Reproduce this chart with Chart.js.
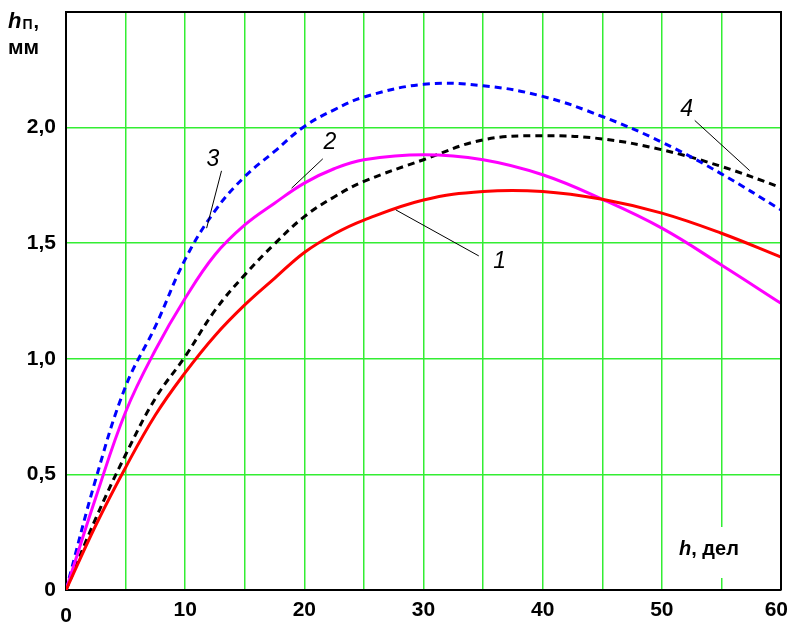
<!DOCTYPE html>
<html>
<head>
<meta charset="utf-8">
<script src="https://cdn.jsdelivr.net/npm/chart.js@4"></script>
<style>
  html, body { margin: 0; padding: 0; background: #ffffff; }
  #c { display: block; }
</style>
</head>
<body>
<canvas id="c" width="791" height="622"></canvas>
<script>
// Scale divisions h (дел) at which each curve is sampled
const divisions = [0, 2.5, 5, 7.5, 10, 12.5, 15, 17.5, 20, 22.5, 25, 30, 35, 40, 45, 50, 55, 60];

// h_П, мм for each curve
const curve1 = [0, 0.28, 0.53, 0.757, 0.94, 1.10, 1.233, 1.348, 1.46, 1.54, 1.60, 1.687, 1.724, 1.724, 1.69, 1.63, 1.543, 1.44];
const curve2 = [0, 0.40, 0.77, 1.038, 1.262, 1.45, 1.579, 1.673, 1.76, 1.822, 1.861, 1.883, 1.861, 1.796, 1.69, 1.565, 1.406, 1.24];
const curve3 = [0, 0.48, 0.88, 1.14, 1.43, 1.64, 1.788, 1.897, 2.005, 2.077, 2.132, 2.187, 2.181, 2.135, 2.048, 1.937, 1.80, 1.644];
const curve4 = [0, 0.31, 0.585, 0.829, 1.01, 1.209, 1.363, 1.497, 1.615, 1.70, 1.767, 1.861, 1.947, 1.965, 1.951, 1.904, 1.832, 1.741];

const curveNames = ['1', '2', '3', '4'];
const xTickLabels = [0, 10, 20, 30, 40, 50, 60];
const yTickLabels = ['0', '0,5', '1,0', '1,5', '2,0'];

// Curve number callouts: text anchor and leader line ends, in axis units
const callouts = [
  { text: '1', at: [36.4, 1.419], from: [27.68, 1.644], to: [34.64, 1.445] },
  { text: '2', at: [22.14, 1.934], from: [21.55, 1.865], to: [18.93, 1.738] },
  { text: '3', at: [12.32, 1.861], from: [13.05, 1.813], to: [11.80, 1.565] },
  { text: '4', at: [52.09, 2.078], from: [52.76, 2.031], to: [57.37, 1.814] }
];

const toPoints = vals => divisions.map((h, i) => ({ x: h, y: vals[i] }));

const GRID = '#33ee33';
const FAMILY = '"Liberation Sans", Arial, sans-serif';
const BOLD = 'bold 21px ' + FAMILY;

const decorations = {
  id: 'decorations',
  afterDatasetsDraw(chart) {
    const { ctx, chartArea: a, scales: { x, y } } = chart;
    ctx.save();

    // frame on top and right
    ctx.strokeStyle = '#000000';
    ctx.lineWidth = 2;
    ctx.beginPath();
    ctx.moveTo(a.left, a.top);
    ctx.lineTo(a.right, a.top);
    ctx.lineTo(a.right, a.bottom);
    ctx.stroke();

    // leader lines and curve numbers
    ctx.lineWidth = 1;
    ctx.strokeStyle = '#000000';
    ctx.fillStyle = '#000000';
    ctx.font = 'italic 23px ' + FAMILY;
    ctx.textAlign = 'center';
    ctx.textBaseline = 'middle';
    callouts.forEach(c => {
      ctx.beginPath();
      ctx.moveTo(x.getPixelForValue(c.from[0]), y.getPixelForValue(c.from[1]));
      ctx.lineTo(x.getPixelForValue(c.to[0]), y.getPixelForValue(c.to[1]));
      ctx.stroke();
      ctx.fillText(c.text, x.getPixelForValue(c.at[0]), y.getPixelForValue(c.at[1]));
    });

    // x axis title inside the plot, on a white patch
    ctx.fillStyle = '#ffffff';
    ctx.fillRect(664, 527, 88, 51);
    ctx.fillStyle = '#000000';
    ctx.textAlign = 'left';
    ctx.textBaseline = 'alphabetic';
    ctx.font = 'bold italic 20px ' + FAMILY;
    ctx.fillText('h', 679, 555);
    const hw = ctx.measureText('h').width;
    ctx.font = 'bold 20px ' + FAMILY;
    ctx.fillText(', дел', 679 + hw, 555);
    ctx.restore();
  },
  afterDraw(chart) {
    const { ctx, scales: { x } } = chart;
    ctx.save();
    ctx.fillStyle = '#000000';
    ctx.font = BOLD;
    ctx.textBaseline = 'middle';
    // x tick labels
    xTickLabels.forEach(v => {
      const px = x.getPixelForValue(v);
      const w = ctx.measureText(String(v)).width;
      let left = px - w / 2;
      if (left + w > 788) left = 788 - w;
      ctx.textAlign = 'left';
      ctx.fillText(String(v), left, v === 0 ? 616 : 610);
    });

    // y axis title
    ctx.textAlign = 'left';
    ctx.textBaseline = 'alphabetic';
    ctx.font = 'bold italic 22px ' + FAMILY;
    ctx.fillText('h', 8, 28);
    const hw = ctx.measureText('h').width;
    ctx.font = 'bold 14px ' + FAMILY;
    ctx.fillText('П', 8 + hw + 1, 29);
    const pw = ctx.measureText('П').width;
    ctx.font = 'bold 20px ' + FAMILY;
    ctx.fillText(',', 8 + hw + 1 + pw + 1, 28);
    ctx.font = 'bold 21px ' + FAMILY;
    ctx.fillText('мм', 8, 54);
    ctx.restore();
  }
};

new Chart(document.getElementById('c'), {
  type: 'line',
  data: {
    datasets: [
      { label: curveNames[0], data: toPoints(curve1), borderColor: '#ff0000', borderWidth: 3 },
      { label: curveNames[1], data: toPoints(curve2), borderColor: '#ff00ff', borderWidth: 3 },
      { label: curveNames[2], data: toPoints(curve3), borderColor: '#0000ff', borderWidth: 3, borderDash: [7, 5] },
      { label: curveNames[3], data: toPoints(curve4), borderColor: '#000000', borderWidth: 3, borderDash: [7, 5] }
    ]
  },
  options: {
    responsive: false,
    animation: false,
    devicePixelRatio: 1,
    layout: { padding: { top: 12, right: 10, left: 0, bottom: 0 } },
    elements: {
      point: { radius: 0 },
      line: { tension: 0.4, fill: false, borderCapStyle: 'butt' }
    },
    plugins: { legend: { display: false }, tooltip: { enabled: false } },
    scales: {
      x: {
        type: 'linear',
        min: 0,
        max: 60,
        ticks: { stepSize: 5, display: false },
        grid: { color: GRID, lineWidth: 1.5, drawTicks: false },
        border: { display: true, color: '#000000', width: 2 },
        afterFit: s => { s.height = 32; }
      },
      y: {
        type: 'linear',
        min: 0,
        max: 2.5,
        ticks: {
          stepSize: 0.5,
          color: '#000000',
          padding: 10,
          // the unlabelled top tick gets a tiny font so it reserves no space
          font: c => ({ family: FAMILY, weight: 'bold', size: (c.tick && c.tick.value >= 2.5) ? 1 : 21 }),
          callback: (v, i) => yTickLabels[i] !== undefined ? yTickLabels[i] : ''
        },
        grid: { color: GRID, lineWidth: 1.5, drawTicks: false },
        border: { display: true, color: '#000000', width: 2 },
        afterFit: s => { s.width = 66; }
      }
    }
  },
  plugins: [decorations]
});
</script>
</body>
</html>
